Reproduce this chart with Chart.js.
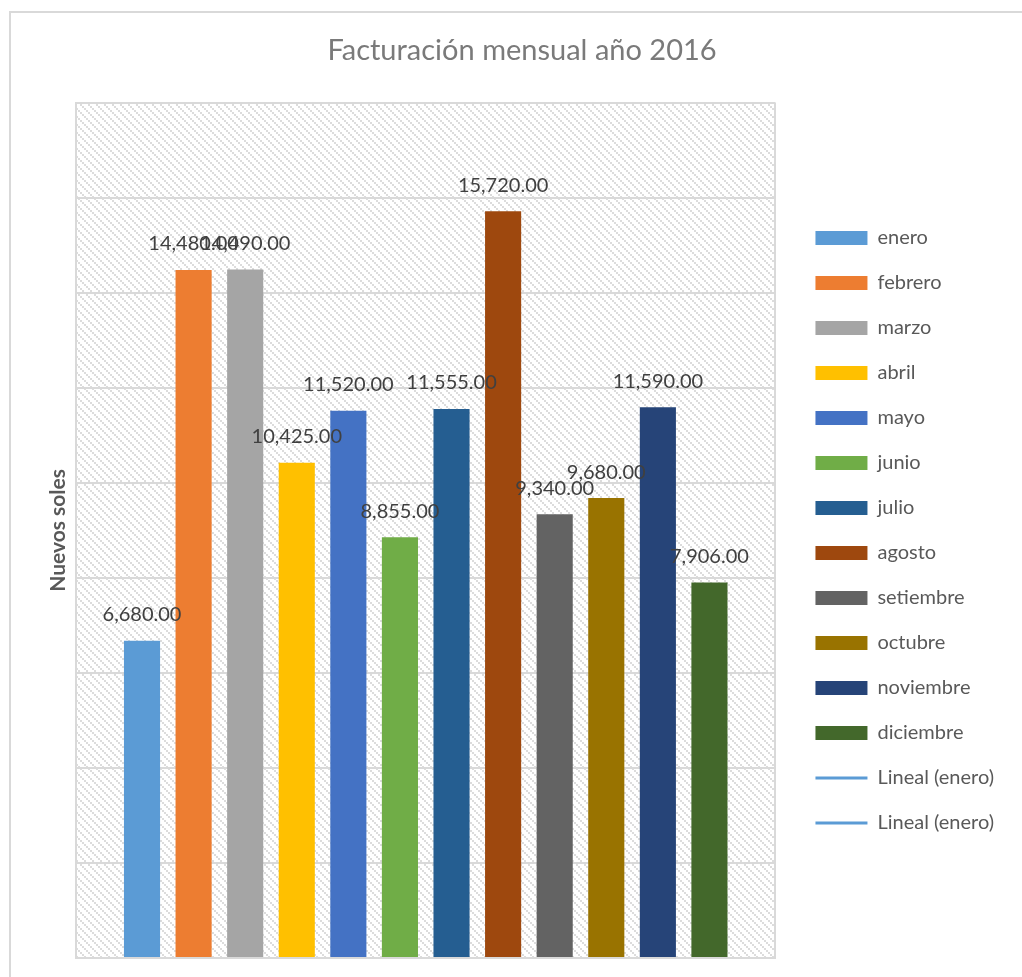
<!DOCTYPE html>
<html>
<head>
<meta charset="utf-8">
<script src="https://cdn.jsdelivr.net/npm/chart.js@4"></script>
<style>
  html, body { margin: 0; padding: 0; background: #ffffff; }
  #wrap { position: relative; width: 1022px; height: 977px; }
</style>
</head>
<body>
<div id="wrap"><canvas id="chart"></canvas></div>
<script>
// Monthly billing, 2016 (Nuevos soles)
const months = ['enero', 'febrero', 'marzo', 'abril', 'mayo', 'junio', 'julio', 'agosto', 'setiembre', 'octubre', 'noviembre', 'diciembre'];
const amounts = [6680, 14480, 14490, 10425, 11520, 8855, 11555, 15720, 9340, 9680, 11590, 7906];
const monthColors = ['#5b9bd5', '#ed7d31', '#a5a5a5', '#ffc000', '#4472c4', '#70ad47', '#255e91', '#9e480e', '#636363', '#997300', '#264478', '#43682b'];
const trendLabels = ['Lineal (enero)', 'Lineal (enero)'];
const yRange = { min: 0, max: 18000, step: 2000 };

const FONT = 'Lato, Carlito, "Open Sans", sans-serif';

function fmt(v) {
  return v.toLocaleString('en-US', { minimumFractionDigits: 2, maximumFractionDigits: 2 });
}

// diagonal hatch used as the plot-area fill
function makeHatch(ctx) {
  const tile = document.createElement('canvas');
  tile.width = 8; tile.height = 8;
  const t = tile.getContext('2d');
  t.fillStyle = '#ffffff';
  t.fillRect(0, 0, 8, 8);
  t.fillStyle = '#dcdcdc';
  for (let i = 0; i < 8; i += 2) t.fillRect(i, i, 2, 2);
  return ctx.createPattern(tile, 'repeat');
}

const plotBackground = {
  id: 'plotBackground',
  beforeDraw(chart) {
    const { ctx, chartArea: a, width, height } = chart;
    ctx.save();
    // outer frame
    ctx.strokeStyle = '#d9d9d9';
    ctx.lineWidth = 2;
    ctx.beginPath();
    ctx.moveTo(10, height + 2);
    ctx.lineTo(10, 12);
    ctx.lineTo(width + 2, 12);
    ctx.stroke();
    // hatched plot area
    ctx.fillStyle = makeHatch(ctx);
    ctx.fillRect(a.left, a.top, a.right - a.left, a.bottom - a.top);
    ctx.restore();
  }
};

const valueLabels = {
  id: 'valueLabels',
  afterDatasetsDraw(chart) {
    const { ctx } = chart;
    ctx.save();
    ctx.font = '20px ' + FONT;
    ctx.fillStyle = '#404040';
    ctx.textAlign = 'center';
    ctx.textBaseline = 'middle';
    chart.data.datasets.forEach((ds, i) => {
      if (ds.type === 'line') return;
      const meta = chart.getDatasetMeta(i);
      if (!meta.visible) return;
      meta.data.forEach((bar, j) => {
        ctx.fillText(fmt(ds.data[j]), bar.x, bar.y - 26);
      });
    });
    ctx.restore();
  }
};

const barSets = months.map((m, i) => ({
  label: m,
  data: [amounts[i]],
  backgroundColor: monthColors[i],
  borderWidth: 0,
  pointStyle: 'rect',
  barPercentage: 0.7,
  categoryPercentage: 0.885
}));

const trendSets = trendLabels.map(l => ({
  type: 'line',
  label: l,
  data: [amounts[0]],
  borderColor: '#5b9bd5',
  borderWidth: 3,
  pointRadius: 0,
  pointHoverRadius: 0,
  pointStyle: 'line',
  pointBorderColor: '#5b9bd5',
  pointBackgroundColor: '#5b9bd5',
  pointBorderWidth: 3
}));

new Chart(document.getElementById('chart'), {
  type: 'bar',
  data: {
    labels: ['2016'],
    datasets: [...barSets, ...trendSets]
  },
  plugins: [plotBackground, valueLabels],
  options: {
    responsive: true,
    maintainAspectRatio: false,
    animation: false,
    layout: { padding: { left: 40, right: 18, top: 0, bottom: 0 } },
    plugins: {
      title: {
        display: true,
        text: 'Facturación mensual año 2016',
        color: '#7a7a7a',
        font: { family: FONT, size: 29, weight: 'normal' },
        padding: { top: 33, bottom: 35 }
      },
      legend: {
        position: 'right',
        fullSize: false,
        align: 'center',
        labels: {
          usePointStyle: true,
          pointStyleWidth: 52,
          boxHeight: 14,
          padding: 25,
          color: '#595959',
          font: { family: FONT, size: 20 }
        }
      },
      tooltip: { enabled: false }
    },
    scales: {
      x: {
        ticks: { display: false },
        grid: { display: true, color: '#d9d9d9', lineWidth: 2, drawTicks: false, offset: true },
        border: { display: true, color: '#d9d9d9', width: 2 },
        afterFit(s) { s.height = 19; }
      },
      y: {
        min: yRange.min,
        max: yRange.max,
        ticks: { display: false, stepSize: yRange.step },
        grid: { color: '#d9d9d9', lineWidth: 2, drawTicks: false },
        border: { display: true, color: '#d9d9d9', width: 2 },
        title: {
          display: true,
          text: 'Nuevos soles',
          color: '#595959',
          font: { family: FONT, size: 21, weight: 'bold', lineHeight: 1 },
          padding: { top: 8, bottom: 0 }
        },
        afterFit(s) { s.width = 36; }
      },
      // empty spacer between the plot and the legend
      gap: {
        axis: 'y',
        position: 'right',
        display: false,
        afterFit(s) { s.width = 15; }
      }
    }
  }
});
</script>
</body>
</html>
